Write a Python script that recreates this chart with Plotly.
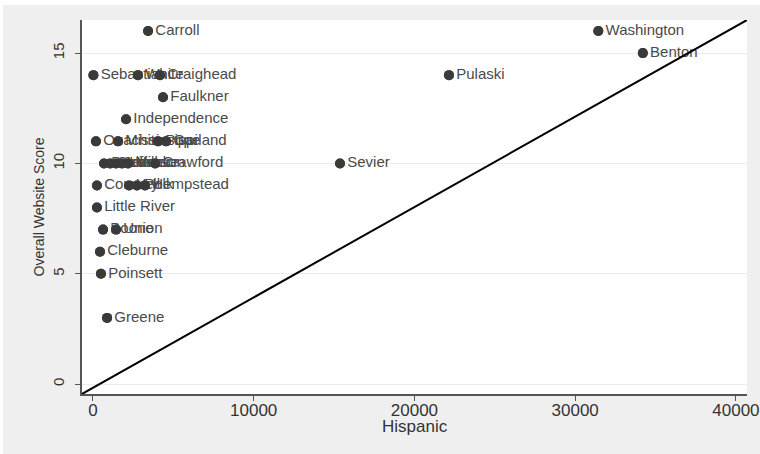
import plotly.graph_objects as go

counties = ["Carroll", "Washington", "Benton", "Sebastian", "White", "Craighead",
            "Pulaski", "Faulkner", "Independence", "Ouachita", "Mississippi", "Pope",
            "Garland", "Baxter", "Saline", "Jefferson", "Lonoke", "Miller", "Crawford",
            "Sevier", "Conway", "Yell", "Polk", "Hempstead", "Little River", "Boone",
            "Union", "Cleburne", "Poinsett", "Greene"]
hispanic = [3430, 31440, 34210, 30, 2800, 4170,
            22150, 4360, 2060, 190, 1560, 4050,
            4550, 690, 1070, 1440, 1810, 2180, 3870,
            15370, 250, 2250, 2740, 3240, 250, 630,
            1440, 440, 500, 880]
score = [16, 16, 15, 14, 14, 14,
         14, 13, 12, 11, 11, 11,
         11, 10, 10, 10, 10, 10, 10,
         10, 9, 9, 9, 9, 8, 7,
         7, 6, 5, 3]

diag_x = [-680, 40690]
diag_y = [-0.45, 16.5]

x_ticks = [0, 10000, 20000, 30000, 40000]
y_ticks = [0, 5, 10, 15]

FONT = "Liberation Sans, Arial, sans-serif"
DOT = "#3a3a3a"

fig = go.Figure()
fig.add_trace(go.Scatter(
    x=hispanic, y=score, mode="markers+text", text=counties,
    textposition="middle right",
    textfont=dict(family=FONT, size=15, color="#4a4a4a"),
    marker=dict(color=DOT, size=10), cliponaxis=False, showlegend=False))
fig.add_trace(go.Scatter(
    x=hispanic, y=score, mode="markers",
    marker=dict(color=DOT, size=10), cliponaxis=False, showlegend=False))
fig.add_trace(go.Scatter(
    x=diag_x, y=diag_y, mode="lines",
    line=dict(color="black", width=2), showlegend=False))

fig.update_layout(
    width=760, height=454,
    margin=dict(l=82, r=13, t=20, b=60),
    paper_bgcolor="#efefef", plot_bgcolor="white",
    font=dict(family=FONT, color="#333"),
    shapes=[
        dict(type="rect", xref="paper", yref="paper", x0=-0.2, x1=1.1,
             y0=1.0401, y1=1.06, fillcolor="white", line=dict(width=0)),
        dict(type="rect", xref="paper", yref="paper", x0=-0.2, x1=-0.1188,
             y0=-0.2, y1=1.06, fillcolor="white", line=dict(width=0)),
    ],
    annotations=[
        dict(text="Hispanic", xref="paper", yref="paper", x=0.5008, y=-0.0875,
             xanchor="center", yanchor="middle", showarrow=False,
             font=dict(family=FONT, size=17, color="#333")),
    ],
    xaxis=dict(range=[diag_x[0], diag_x[1]], tickvals=x_ticks,
               ticktext=[str(v) for v in x_ticks], automargin=False,
               showgrid=False, zeroline=False, showline=True,
               linecolor="#555", linewidth=1.5, ticks="outside", ticklen=5,
               tickcolor="#555", tickfont=dict(size=17, color="#333"),
               ticklabelstandoff=-5),
    yaxis=dict(range=[diag_y[0], diag_y[1]], tickvals=y_ticks,
               ticktext=[str(v) for v in y_ticks], tickangle=-90,
               automargin=False, ticklabelstandoff=5,
               showgrid=True, gridcolor="#ececec", gridwidth=1,
               zeroline=False, showline=True,
               linecolor="#555", linewidth=1.5, ticks="outside", ticklen=5,
               tickcolor="#555", tickfont=dict(size=15, color="#333"),
               title=dict(text="Overall Website Score",
                          font=dict(size=14, color="#333"), standoff=2)),
)

fig.write_html("out.html", config={"displayModeBar": False},
               post_script="document.body.style.margin='0';")
